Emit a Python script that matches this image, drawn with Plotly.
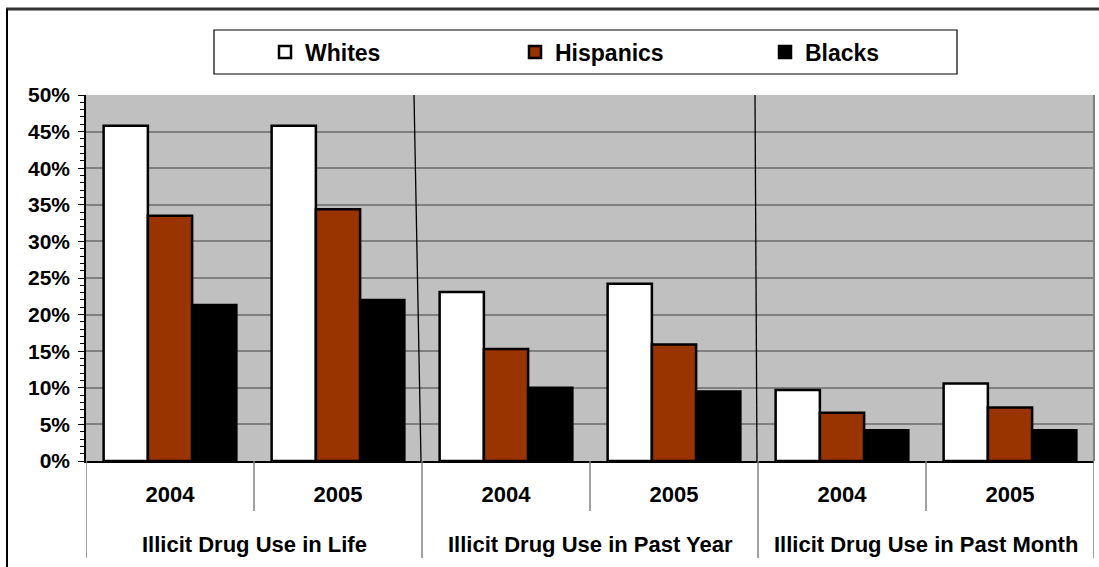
import plotly.graph_objects as go

# Survey categories (outer level) and survey years (inner level)
groups = ["Illicit Drug Use in Life", "Illicit Drug Use in Life",
          "Illicit Drug Use in Past Year", "Illicit Drug Use in Past Year",
          "Illicit Drug Use in Past Month", "Illicit Drug Use in Past Month"]
years = ["2004", "2005", "2004", "2005", "2004", "2005"]

# Share of respondents reporting use, by group
whites = [0.458, 0.458, 0.231, 0.242, 0.097, 0.106]
hispanics = [0.335, 0.344, 0.153, 0.159, 0.066, 0.073]
blacks = [0.213, 0.220, 0.100, 0.095, 0.042, 0.042]

series = [("Whites", whites, "#FFFFFF"),
          ("Hispanics", hispanics, "#993300"),
          ("Blacks", blacks, "#000000")]

W, H = 1099, 567
ML, MR, MT, MB = 86, 5, 95, 106
PW, PH = W - ML - MR, H - MT - MB


def px_x(px):
    return (px - ML) / PW


def px_y(py):
    return (H - MB - py) / PH


FONT = "Liberation Sans, Arial, sans-serif"
pos = list(range(len(years)))

fig = go.Figure()
for name, vals, color in series:
    fig.add_trace(go.Bar(
        x=pos, y=vals, name=name,
        marker=dict(color=color, line=dict(color="#000000", width=2.5)),
    ))

fig.update_layout(
    width=W, height=H,
    margin=dict(l=ML, r=MR, t=MT, b=MB),
    paper_bgcolor="#FFFFFF",
    plot_bgcolor="#C0C0C0",
    barmode="group",
    bargap=0.21,
    bargroupgap=0,
    font=dict(family=FONT, size=21, color="#000000", weight="bold"),
    showlegend=True,
    legend=dict(
        orientation="h",
        x=px_x(265), y=px_y(52), xanchor="left", yanchor="middle",
        bgcolor="rgba(0,0,0,0)", borderwidth=0,
        font=dict(family=FONT, size=23, color="#000000", weight="bold"),
        entrywidth=205, entrywidthmode="pixels",
        traceorder="normal",
    ),
)

fig.update_yaxes(
    range=[0, 0.5], dtick=0.05, tickformat=".0%",
    showgrid=True, gridcolor="#808080", gridwidth=1.5,
    showline=True, linecolor="#000000", linewidth=1.5,
    ticks="outside", ticklen=6, tickcolor="#000000", tickwidth=1,
    ticklabelstandoff=4,
    minor=dict(dtick=0.01, ticks="outside", ticklen=4, tickcolor="#000000",
               tickwidth=1, showgrid=False),
    tickfont=dict(family=FONT, size=21, weight="bold"),
    zeroline=False,
)

fig.update_xaxes(
    range=[-0.5, len(years) - 0.5],
    tickvals=pos, ticktext=years,
    showline=True, linecolor="#000000", linewidth=1.5,
    showgrid=False, zeroline=False,
    ticks="", ticklabelstandoff=13,
    tickfont=dict(family=FONT, size=22, weight="bold"),
)

# Outer category labels centred under each pair of years
annotations = []
seen = []
for g in groups:
    if g not in seen:
        seen.append(g)
for g in seen:
    idx = [i for i, v in enumerate(groups) if v == g]
    annotations.append(dict(
        x=sum(idx) / len(idx), xref="x", y=px_y(544), yref="paper",
        text=g, showarrow=False, xanchor="center", yanchor="middle",
        font=dict(family=FONT, size=22, color="#000000", weight="bold"),
    ))
fig.update_layout(annotations=annotations)

shapes = []
# Legend frame
shapes.append(dict(type="rect", xref="paper", yref="paper",
                   x0=px_x(214), x1=px_x(957), y0=px_y(74), y1=px_y(30),
                   line=dict(color="#000000", width=1.2), fillcolor="rgba(0,0,0,0)",
                   layer="below"))
# Plot-area border on the right
shapes.append(dict(type="line", xref="paper", yref="paper",
                   x0=1, x1=1, y0=0, y1=1, line=dict(color="#808080", width=2)))
# Separators between the three survey categories inside the plot
shapes.append(dict(type="line", xref="paper", yref="paper",
                   x0=px_x(414), x1=px_x(421), y0=1, y1=0,
                   line=dict(color="#000000", width=1.3)))
shapes.append(dict(type="line", xref="paper", yref="paper",
                   x0=px_x(755), x1=px_x(757), y0=1, y1=0,
                   line=dict(color="#000000", width=1.3)))
# Dividers below the axis: tall ones between categories, short ones between years
for k in range(len(years) + 1):
    bottom = 558 if k % 2 == 0 else 511
    shapes.append(dict(type="line", xref="x", yref="paper",
                       x0=k - 0.5, x1=k - 0.5, y0=0, y1=px_y(bottom),
                       line=dict(color="#808080", width=1.5)))
# Outer frame (top and left edges)
shapes.append(dict(type="line", xref="paper", yref="paper",
                   x0=px_x(6), x1=px_x(1099), y0=px_y(9), y1=px_y(9),
                   line=dict(color="#333333", width=3)))
shapes.append(dict(type="line", xref="paper", yref="paper",
                   x0=px_x(7), x1=px_x(7), y0=px_y(9), y1=px_y(567),
                   line=dict(color="#000000", width=2)))
fig.update_layout(shapes=shapes)

fig.write_html("out.html")
